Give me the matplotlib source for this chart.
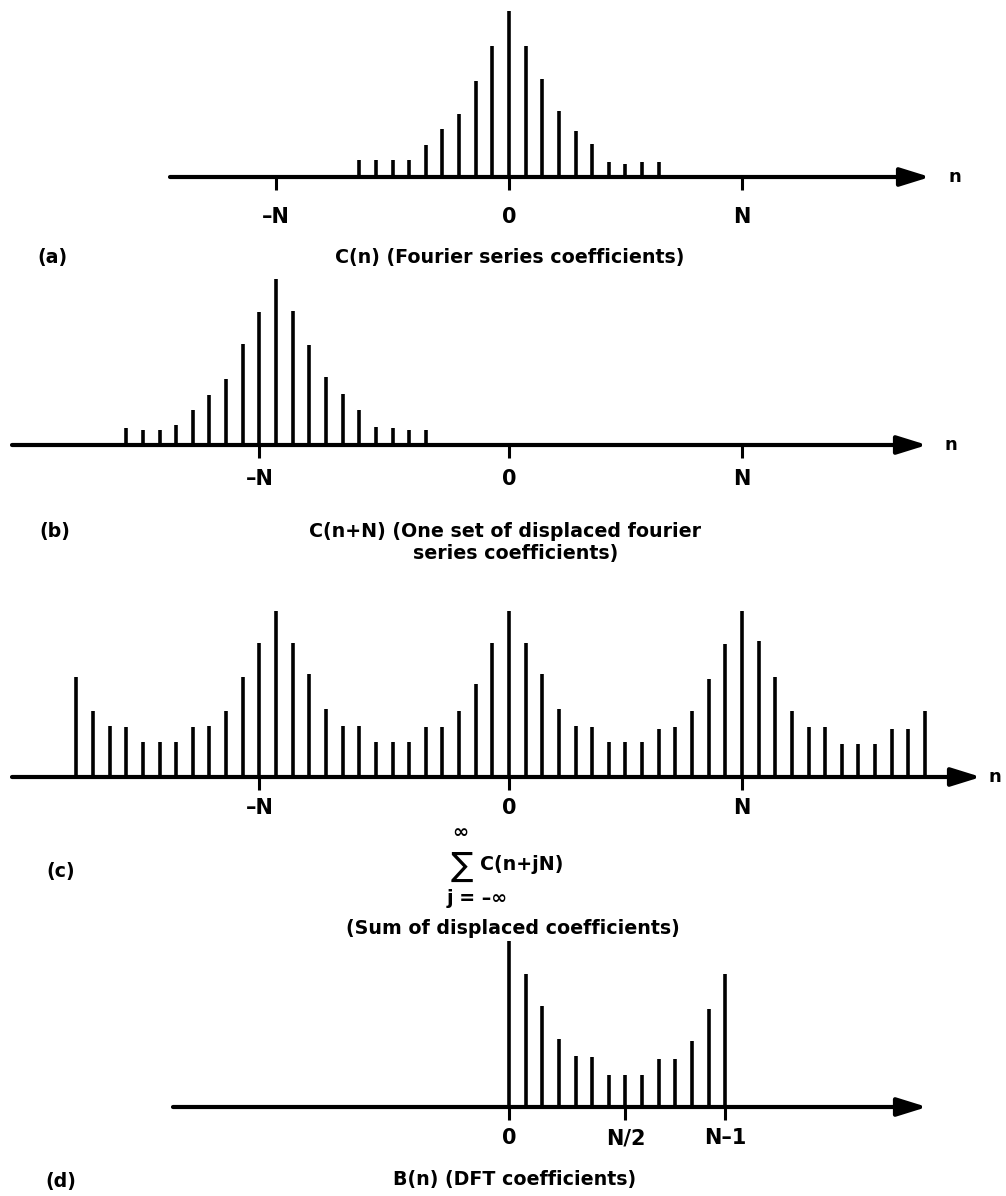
import matplotlib
matplotlib.use("Agg")
import matplotlib.pyplot as plt

# (a) Fourier series coefficients C(n)
n_a = list(range(-9, 10))
c_a = [0.10, 0.10, 0.10, 0.10, 0.19, 0.29, 0.38, 0.58, 0.79, 1.00,
       0.79, 0.59, 0.40, 0.28, 0.20, 0.09, 0.08, 0.09, 0.09]

# (b) C(n+N), one displaced copy
n_b = list(range(-23, -4))
c_b = [0.10, 0.09, 0.09, 0.12, 0.21, 0.30, 0.40, 0.61, 0.80, 1.00,
       0.81, 0.60, 0.41, 0.31, 0.21, 0.11, 0.10, 0.09, 0.09]

# (c) sum of displaced coefficients
n_c = list(range(-26, 26))
c_c = [0.60, 0.40, 0.31, 0.30, 0.21, 0.21, 0.21, 0.30, 0.31, 0.40,
       0.60, 0.81, 1.00, 0.81, 0.62, 0.41, 0.31, 0.31, 0.21, 0.21,
       0.21, 0.30, 0.30, 0.40, 0.56, 0.81, 1.00, 0.81, 0.62, 0.41,
       0.31, 0.30, 0.21, 0.21, 0.21, 0.29, 0.30, 0.40, 0.59, 0.80,
       1.00, 0.82, 0.60, 0.40, 0.30, 0.30, 0.20, 0.20, 0.20, 0.29,
       0.29, 0.40]

# (d) DFT coefficients B(n)
n_d = list(range(0, 14))
b_d = [1.00, 0.80, 0.61, 0.41, 0.31, 0.30, 0.19, 0.19, 0.19, 0.29,
       0.29, 0.40, 0.59, 0.80]

ticks_a = [-14, 0, 14]
ticks_b = [-15, 0, 14]
ticks_c = [-15, 0, 14]
ticks_d = [0, 7, 13]
labels_n = ["\u2013N", "0", "N"]
labels_d = ["0", "N/2", "N\u20131"]

W, H, DPI = 1006, 1196, 100
ZERO_PX = 509      # pixel column of n = 0
STEP_PX = 16.64    # pixels per unit of n
UNIT_PX = 166      # pixels per unit of height

plt.rcParams['font.family'] = ['DejaVu Sans']
plt.rcParams['font.weight'] = 'bold'

fig = plt.figure(figsize=(W / DPI, H / DPI), dpi=DPI)


def to_n(px):
    return (px - ZERO_PX) / STEP_PX


def panel(base_px):
    ax = fig.add_axes([0, 0, 1, 1])
    ax.set_xlim(to_n(0), to_n(W))
    ax.set_ylim(-(H - base_px) / UNIT_PX, base_px / UNIT_PX)
    ax.axis('off')
    return ax


def draw(ax, n, vals, x0, x1, ticks, labels, label_off, n_px=None):
    ax.vlines(n, 0, vals, color='black', lw=2.6)
    ax.annotate('', xy=(to_n(x1), 0), xytext=(to_n(x0), 0),
                arrowprops=dict(arrowstyle='-|>,head_length=0.9,head_width=0.28',
                                lw=3.0, color='black', mutation_scale=20,
                                shrinkA=0, shrinkB=0))
    ax.vlines(ticks, -13 / UNIT_PX, 0, color='black', lw=2.2)
    for t, s in zip(ticks, labels):
        ax.text(t, -label_off / UNIT_PX, s, ha='center', va='center', fontsize=15)
    if n_px is not None:
        ax.text(to_n(n_px), 0, 'n', ha='left', va='center', fontsize=13)


def ftext(x, y, s, **kw):
    kw.setdefault('fontsize', 13.7)
    kw.setdefault('ha', 'center')
    kw.setdefault('va', 'center')
    fig.text(x / W, 1 - y / H, s, **kw)


ax_a = panel(177)
draw(ax_a, n_a, c_a, 170, 930, ticks_a, labels_n, 40, 948)
ftext(52, 258, "(a)")
ftext(510, 258, "C(n) (Fourier series coefficients)")

ax_b = panel(445)
draw(ax_b, n_b, c_b, 12, 927, ticks_b, labels_n, 34, 945)
ftext(55, 532, "(b)")
ftext(505, 532, "C(n+N) (One set of displaced fourier")
ftext(516, 554, "series coefficients)")

ax_c = panel(777)
draw(ax_c, n_c, c_c, 12, 981, ticks_c, labels_n, 31, 989)
ftext(61, 872, "(c)")
ftext(460, 832, "\u221e", fontsize=14)
ftext(462, 866, "\u2211", fontsize=24, weight='normal')
ftext(480, 864, "C(n+jN)", ha='left')
ftext(477, 898, "j = \u2013\u221e")
ftext(513, 928, "(Sum of displaced coefficients)")

ax_d = panel(1107)
draw(ax_d, n_d, b_d, 173, 927, ticks_d, labels_d, 31)
ftext(61, 1182, "(d)")
ftext(515, 1180, "B(n) (DFT coefficients)")

fig.savefig("out.png", dpi=DPI)
